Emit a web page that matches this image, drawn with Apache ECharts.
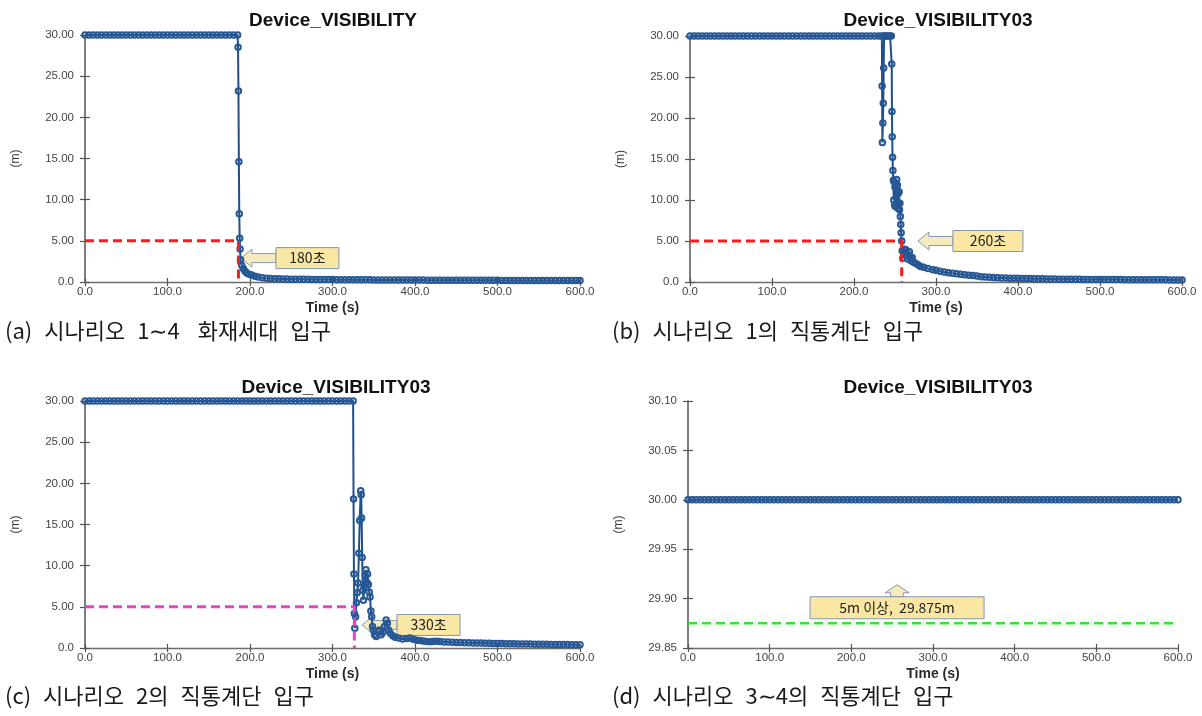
<!DOCTYPE html>
<html><head><meta charset="utf-8">
<script src="https://cdn.jsdelivr.net/npm/echarts@6/dist/echarts.min.js"></script>
<style>html,body{margin:0;padding:0;background:#fff}#c{width:1202px;height:716px}</style>
</head><body><div id="c"></div>
<script>
// ---------- DATA ----------
const xTicks = [0,100,200,300,400,500,600];
const titles = ['Device_VISIBILITY','Device_VISIBILITY03','Device_VISIBILITY03','Device_VISIBILITY03'];
const captions = ['(a) 시나리오 1∼4  화재세대 입구','(b) 시나리오 1의 직통계단 입구','(c) 시나리오 2의 직통계단 입구','(d) 시나리오 3∼4의 직통계단 입구'];

// (a) 화재세대 입구
const timeA = [0,5,10,15,20,25,30,35,40,45,50,55,60,65,70,75,80,85,90,95,100,105,110,115,120,125,130,135,140,145,150,155,160,165,170,175,180,185,
185.5,186,186.5,187,187.5,188,188.5,
190,192,194,196,199,202,206,210,215,220,225,230,235,240,245,250,
255,260,265,270,275,280,285,290,295,300,305,310,315,320,325,330,335,340,345,350,355,360,365,370,375,380,385,390,395,400,
405,410,415,420,425,430,435,440,445,450,455,460,465,470,475,480,485,490,495,500,505,510,515,520,525,530,535,540,545,550,
555,560,565,570,575,580,585,590,595,600];
const visA = [30,30,30,30,30,30,30,30,30,30,30,30,30,30,30,30,30,30,30,30,30,30,30,30,30,30,30,30,30,30,30,30,30,30,30,30,30,30,
28.5,23.2,14.6,8.3,5.3,4.0,2.7,
2.0,1.6,1.3,1.1,0.95,0.85,0.7,0.6,0.52,0.46,0.42,0.40,0.38,0.36,0.35,0.34,
0.33,0.33,0.32,0.32,0.31,0.31,0.30,0.30,0.29,0.29,0.28,0.28,0.28,0.27,0.27,0.27,0.26,0.26,0.26,0.25,
0.25,0.25,0.25,0.24,0.24,0.24,0.24,0.23,0.23,0.23,0.23,0.23,0.22,0.22,0.22,0.22,0.22,0.21,0.21,0.21,
0.21,0.21,0.21,0.20,0.20,0.20,0.20,0.20,0.20,0.20,0.19,0.19,0.19,0.19,0.19,0.19,0.19,0.18,0.18,0.18,
0.18,0.18,0.18,0.18,0.18,0.17,0.17,0.17,0.17,0.17];
const refA = [[0,5],[186,5],[186,0]];

// (b) 시나리오 1 직통계단 입구
const timeB = [0,5,10,15,20,25,30,35,40,45,50,55,60,65,70,75,80,85,90,95,100,105,110,115,120,125,130,135,140,145,150,155,160,165,170,175,180,185,190,195,200,205,210,215,220,225,230,
234,234.3,234.6,235.2,235.7,236.2,236.7,238,240,242,244,245.5,
246,246.3,246.6,247,247.4,248,248.5,249,249.5,250,250.5,251,251.5,252,252.5,253,253.5,254,254.5,255,255.5,256,256.5,257,257.5,
258.2,258.8,259.5,260.5,261.5,262.5,263.5,264.5,265.5,266.5,267.5,268.5,269.5,271,272.5,275,278,281,285,290,296,300,305,310,
315,320,325,330,335,340,345,350,355,360,365,370,375,380,385,390,395,400,
405,410,415,420,425,430,435,440,445,450,455,460,465,470,475,480,485,490,495,500,505,510,515,520,525,530,535,540,545,550,
555,560,565,570,575,580,585,590,595,600];
const visB = [30,30,30,30,30,30,30,30,30,30,30,30,30,30,30,30,30,30,30,30,30,30,30,30,30,30,30,30,30,30,30,30,30,30,30,30,30,30,30,30,30,30,30,30,30,30,30,
30,23.9,17.0,19.4,21.8,26.1,30,30,30,30,30,30,
26.6,20.8,17.7,15.2,13.6,12.4,10.0,12.2,9.4,11.6,9.2,12.0,10.3,12.5,9.6,11.8,9.0,10.8,9.5,11.0,8.8,9.6,8.0,7.0,6.0,
5.0,3.8,2.9,3.6,4.0,3.4,3.9,3.2,2.8,3.3,3.7,3.0,2.6,3.0,2.4,2.3,2.1,1.9,1.8,1.65,1.5,1.42,1.32,1.22,
1.14,1.06,1.0,0.94,0.88,0.83,0.78,0.72,0.65,0.6,0.57,0.55,0.52,0.5,0.49,0.47,0.46,0.45,
0.44,0.43,0.42,0.41,0.40,0.39,0.38,0.37,0.36,0.35,0.35,0.34,0.34,0.33,0.33,0.32,0.32,0.31,0.31,0.30,
0.30,0.30,0.29,0.29,0.29,0.28,0.28,0.28,0.27,0.27,0.27,0.27,0.26,0.26,0.26,0.26,0.25,0.25,0.25,0.25];
const refB = [[0,5],[258.2,5],[258.2,0]];

// (c) 시나리오 2 직통계단 입구
const timeC = [0,5,10,15,20,25,30,35,40,45,50,55,60,65,70,75,80,85,90,95,100,105,110,115,120,125,130,135,140,145,150,155,160,165,170,175,180,185,190,195,200,205,210,215,220,225,230,235,240,245,250,255,260,265,270,275,280,285,290,295,300,305,310,315,320,325,
325.5,326,326.5,327,328,329,330,331,332,333,334.2,334.8,335.3,336,336.8,337.5,338.5,339.5,340.5,341.5,342.5,343.5,344.5,345.5,346.5,347.5,348.5,349.5,
351,353,355,357,359,361,363,365,366.5,368,370,373,376,380,385,390,394,398,402,406,410,414,418,422,426,430,435,440,445,450,
455,460,465,470,475,480,485,490,495,500,505,510,515,520,525,530,535,540,545,550,555,560,565,570,575,580,585,590,595,600];
const visC = [30,30,30,30,30,30,30,30,30,30,30,30,30,30,30,30,30,30,30,30,30,30,30,30,30,30,30,30,30,30,30,30,30,30,30,30,30,30,30,30,30,30,30,30,30,30,30,30,30,30,30,30,30,30,30,30,30,30,30,30,30,30,30,30,30,30,
18.1,9.0,4.2,2.4,3.8,5.5,6.7,7.9,11.5,15.5,19.1,18.6,15.8,11.0,7.0,5.8,7.5,8.8,9.5,8.0,9.0,7.7,6.8,6.2,4.5,3.8,2.6,2.2,
1.6,1.4,2.0,2.2,1.6,1.9,2.6,3.4,3.0,2.2,1.8,1.5,1.3,1.2,1.1,1.15,1.2,1.05,0.95,0.9,0.85,0.8,0.77,0.8,0.82,0.78,0.74,0.72,0.7,0.68,
0.66,0.65,0.64,0.62,0.6,0.6,0.59,0.58,0.56,0.55,0.54,0.53,0.52,0.51,0.5,0.5,0.49,0.48,0.47,0.46,0.45,0.45,0.44,0.43,0.42,0.42,0.41,0.4,0.4,0.39];
const refC = [[0,5],[326.5,5],[326.5,0]];

// (d) 시나리오 3~4 직통계단 입구
const timeD = [0,5,10,15,20,25,30,35,40,45,50,55,60,65,70,75,80,85,90,95,100,105,110,115,120,125,130,135,140,145,150,155,160,165,170,175,180,185,190,195,
200,205,210,215,220,225,230,235,240,245,250,255,260,265,270,275,280,285,290,295,300,305,310,315,320,325,330,335,340,345,350,355,360,365,370,375,380,385,390,395,
400,405,410,415,420,425,430,435,440,445,450,455,460,465,470,475,480,485,490,495,500,505,510,515,520,525,530,535,540,545,550,555,560,565,570,575,580,585,590,595,600];
const visD = [30,30,30,30,30,30,30,30,30,30,30,30,30,30,30,30,30,30,30,30,30,30,30,30,30,30,30,30,30,30,30,30,30,30,30,30,30,30,30,30,
30,30,30,30,30,30,30,30,30,30,30,30,30,30,30,30,30,30,30,30,30,30,30,30,30,30,30,30,30,30,30,30,30,30,30,30,30,30,30,30,
30,30,30,30,30,30,30,30,30,30,30,30,30,30,30,30,30,30,30,30,30,30,30,30,30,30,30,30,30,30,30,30,30,30,30,30,30,30,30,30,30];
const refD = [[0,29.875],[595,29.875]];

const yRanges = [[0,30,5],[0,30,5],[0,30,5],[29.85,30.10,0.05]];
// callouts: anchor (arrow tip) in data coords
const callouts = [
  {panel:0, tip:[189,2.9], text:'180초', dir:'left'},
  {panel:1, tip:[278,5.0], text:'260초', dir:'left'},
  {panel:2, tip:[335.8,2.8], text:'330초', dir:'left'},
  {panel:3, tip:[256,29.914], text:'5m 이상,  29.875m', dir:'up'}
];

// ---------- LAYOUT / STYLE ----------
const grids = [
  {left:85, top:35, width:495, height:247},
  {left:690, top:36, width:492, height:246},
  {left:85, top:401, width:495, height:247},
  {left:688, top:401, width:490, height:247}
];
const titlePos = [[328,6],[933,6],[331,373],[933,373]];
const capPos = [[5,320],[612,320],[5,685],[612,685]];
const refColors = ['#ff1a1a','#ff1a1a','#f040c8','#2ee82e'];
const FONT = 'Liberation Sans, Arial, sans-serif';
const KFONT = '"Noto Sans CJK KR", sans-serif';

const zip = (t,v)=>t.map((x,k)=>[x,v[k]]);
const seriesData = [zip(timeA,visA),zip(timeB,visB),zip(timeC,visC),zip(timeD,visD)];
const refs = [refA,refB,refC,refD];

const xAxes=[], yAxes=[], series=[];
for(let i=0;i<4;i++){
  const [ymin,ymax,yint]=yRanges[i];
  xAxes.push({gridIndex:i,type:'value',min:0,max:600,interval:100,position:'bottom',
    axisLine:{show:true,onZero:false,lineStyle:{color:'#6e6e6e',width:1.3}},
    axisTick:{show:true,length:4,lineStyle:{color:'#555',width:1.2}},
    axisLabel:{formatter:v=>v.toFixed(1),fontSize:11.5,color:'#444',margin:4,fontFamily:FONT},
    splitLine:{show:false},
    name:'Time (s)',nameLocation:'middle',nameGap:19,
    nameTextStyle:{fontSize:14,fontWeight:'bold',color:'#2a2a2a',fontFamily:FONT}});
  yAxes.push({gridIndex:i,type:'value',min:ymin,max:ymax,interval:yint,
    axisLine:{show:true,lineStyle:{color:'#555',width:1.5}},
    axisTick:{show:true,length:5,lineStyle:{color:'#555',width:1.2}},
    axisLabel:{formatter:v=>(i<3&&v===0)?'0.0':v.toFixed(2),fontSize:11.5,color:'#444',margin:11,fontFamily:FONT},
    splitLine:{show:false},
    name:'(m)',nameLocation:'middle',nameGap:63,
    nameTextStyle:{fontSize:12,color:'#333',fontFamily:FONT}});
}
// inner tick duplicates (ticks crossing the axis line)
for(let i=0;i<4;i++){
  const [ymin,ymax,yint]=yRanges[i];
  xAxes.push({gridIndex:i,type:'value',min:0,max:600,interval:100,position:'bottom',
    axisLine:{show:false,onZero:false},axisTick:{show:true,inside:true,length:4,lineStyle:{color:'#555',width:1.2}},
    axisLabel:{show:false},splitLine:{show:false}});
  yAxes.push({gridIndex:i,type:'value',min:ymin,max:ymax,interval:yint,position:'left',
    axisLine:{show:false},axisTick:{show:true,inside:true,length:5,lineStyle:{color:'#555',width:1.2}},
    axisLabel:{show:false},splitLine:{show:false}});
}
for(let i=0;i<4;i++){
  series.push({type:'line',xAxisIndex:i,yAxisIndex:i,data:seriesData[i],
    symbol:'circle',symbolSize:5.5,showAllSymbol:true,
    itemStyle:{color:'rgba(0,0,0,0)',borderColor:'#275896',borderWidth:2},
    lineStyle:{color:'#1f4e8c',width:2},emphasis:{disabled:true},z:2});
  series.push({type:'line',xAxisIndex:i,yAxisIndex:i,data:refs[i],symbol:'none',
    lineStyle:{color:refColors[i],width:i===3?2.5:3,type:[9,5]},emphasis:{disabled:true},z:3});
}

const chart = echarts.init(document.getElementById('c'),null,{renderer:'canvas'});
chart.setOption({
  animation:false,
  backgroundColor:'#fff',
  title:titles.map((t,i)=>({text:t,left:titlePos[i][0],top:titlePos[i][1],textAlign:'center',
    textStyle:{fontSize:19,fontWeight:'bold',color:'#111',fontFamily:FONT}})),
  grid:grids,
  xAxis:xAxes,
  yAxis:yAxes,
  series:series
});

// ---------- annotations ----------
const graphics = [];
// captions: words laid out with the wide word spacing of the original
const CAP_SIZE = 22, GAP = 12;
const mctx = document.createElement('canvas').getContext('2d');
mctx.font = CAP_SIZE + 'px "Noto Sans CJK KR"';
captions.forEach((c,i)=>{
  let x = capPos[i][0];
  c.split(' ').forEach(w=>{
    if(w===''){ x += 6; return; }
    graphics.push({type:'text',x:x,y:capPos[i][1],
      style:{text:w,fontSize:CAP_SIZE,fill:'#1a1a1a',fontFamily:KFONT}});
    x += mctx.measureText(w).width + GAP;
  });
});
const boxW = [63,70,63,174];
callouts.forEach(co=>{
  const p = chart.convertToPixel({xAxisIndex:co.panel,yAxisIndex:co.panel},co.tip);
  const arrowStyle = {fill:'#f6ebbd',stroke:'#8797b0',lineWidth:1};
  const boxStyle = {fill:'#fbe7a4',stroke:'#8294ae',lineWidth:1};
  const W = boxW[co.panel];
  if(co.dir==='left'){
    const L = 35, H = 21;
    graphics.push({type:'group',x:p[0],y:p[1],children:[
      {type:'polygon',shape:{points:[[0,0],[11,-9],[11,-4.5],[L,-4.5],[L,4.5],[11,4.5],[11,9]]},style:arrowStyle},
      {type:'rect',shape:{x:L,y:-H/2,width:W,height:H},style:boxStyle},
      {type:'text',style:{text:co.text,x:L+W/2,y:0,align:'center',verticalAlign:'middle',fontSize:14,fill:'#222',fontFamily:KFONT}}
    ]});
  } else {
    const H = 22, D = 12;
    graphics.push({type:'group',x:p[0],y:p[1],children:[
      {type:'polygon',shape:{points:[[0,0],[12,8],[6.5,8],[6.5,D],[-6.5,D],[-6.5,8],[-12,8]]},style:arrowStyle},
      {type:'rect',shape:{x:-W/2,y:D,width:W,height:H},style:boxStyle},
      {type:'text',style:{text:co.text,x:0,y:D+H/2,align:'center',verticalAlign:'middle',fontSize:14,fill:'#222',fontFamily:KFONT}}
    ]});
  }
});
chart.setOption({graphic:graphics});
</script>
</body></html>
